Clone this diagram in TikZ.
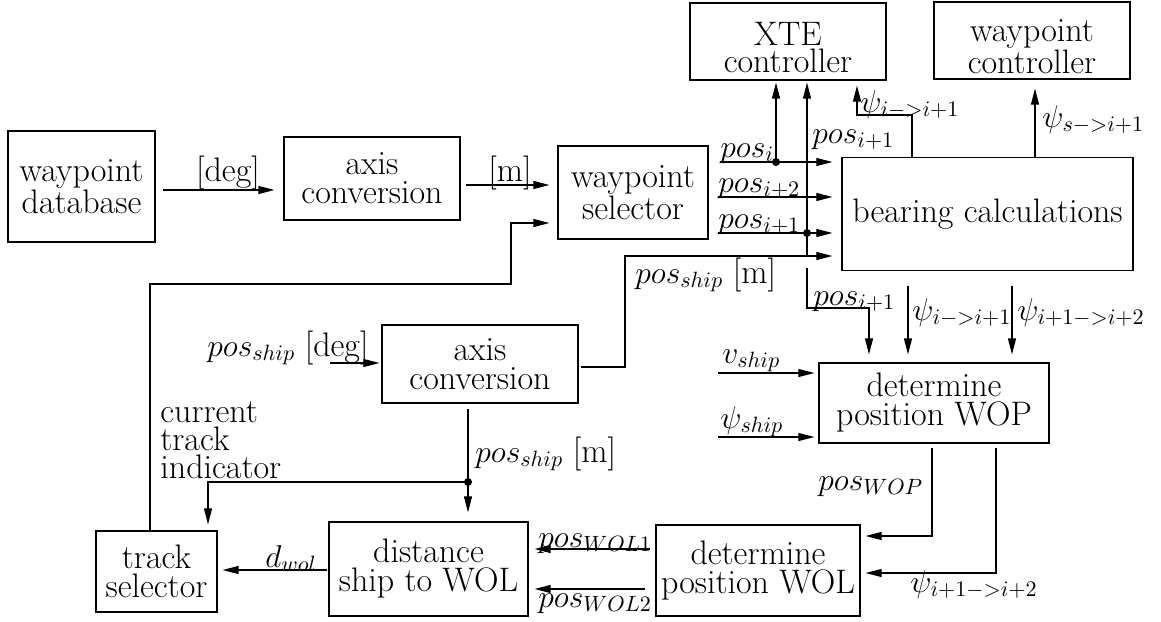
\RequirePackage{fix-cm}
\documentclass[tikz,border=0pt]{standalone}
\usetikzlibrary{arrows.meta}
\newcommand{\unitsz}[1]{{\fontsize{17}{17}\selectfont #1}}
\begin{document}
\begin{tikzpicture}[x=0.5pt,y=-0.5pt,
  font=\fontsize{17}{14.5}\selectfont,
  blk/.style={draw,line width=0.6pt,inner sep=0pt,align=center},
  wire/.style={line width=0.55pt},
  arr/.style={wire,-{Triangle[length=8pt,width=4pt]}},
  lbl/.style={inner sep=0pt,anchor=base west,font=\fontsize{15.8}{15.8}\selectfont},
  ctl/.style={align=center,inner sep=0pt,yshift=-3pt,font=\fontsize{17}{13.5}\selectfont},
  jdot/.style={circle,fill,inner sep=0pt,minimum size=4pt}]
\useasboundingbox (0,0) rectangle (1161,621);

% blocks
\node[blk,minimum width=73.5pt,minimum height=55.5pt] (db)   at (81.5,186.5) {waypoint\\database};
\node[blk,minimum width=88pt,minimum height=41.5pt]   (ac1)  at (372,178.5)  {axis\\conversion};
\node[blk,minimum width=75pt,minimum height=46.5pt]   (ws)   at (633,192.5)  {waypoint\\selector};
\node[blk,minimum width=98pt,minimum height=38.5pt,
      label={[name=xtet,ctl]center:XTE\\controller}] (xte) at (788,41.5) {};
\node[blk,minimum width=98pt,minimum height=38.5pt,
      label={[name=wct,ctl]center:waypoint\\controller}] (wc) at (1032,40.5) {};
\node[blk,minimum width=145.5pt,minimum height=56.5pt] (bc)  at (987.5,214) {bearing calculations};
\node[blk,minimum width=98pt,minimum height=39pt]     (ac2)  at (480,364)    {axis\\conversion};
\node[blk,minimum width=115pt,minimum height=40pt]    (wop)  at (934,403)    {determine\\position WOP};
\node[blk,minimum width=102pt,minimum height=45.5pt]  (wol)  at (758,570.5)  {determine\\position WOL};
\node[blk,minimum width=99.5pt,minimum height=47pt]   (dist) at (428.5,569)  {distance\\ship to WOL};
\node[blk,minimum width=60.5pt,minimum height=40.5pt] (ts)   at (156.5,571.5) {track\\selector};

% junctions and free ends
\coordinate (inpi)  at (720,162);
\coordinate (inpi2) at (718,197);
\coordinate (inpi1) at (718,233);
\coordinate (invs)  at (718,373);
\coordinate (inpsi) at (718,437);
\coordinate (indeg) at (330,363);
\node[jdot] (j1) at (776,162) {};
\node[jdot] (j2) at (807,233) {};
\node[jdot] (j3) at (468,482) {};

% upper chain
\draw[arr,shorten <=3.5pt,shorten >=4.5pt] (db.east |- 0,190) -- (ac1.west |- 0,190);
\draw[arr,shorten <=2.5pt,shorten >=4pt] (ac1.east |- 0,185) -- (ws.west |- 0,185);
\draw[arr,shorten >=4pt] (ts.north -| 150,0) -- (150,284) -- (511,284) -- (511,223) -- (ws.west |- 0,223);

% inputs of the bearing block
\draw[arr,shorten >=4.5pt] (inpi)  -- (bc.west |- inpi);
\draw[arr,shorten >=4.5pt] (inpi2) -- (bc.west |- inpi2);
\draw[arr,shorten >=4.5pt] (inpi1) -- (bc.west |- inpi1);
\draw[arr,shorten <=1pt,shorten >=4.5pt] (ac2.east |- 0,367) -- (625,367) -- (625,256) -- (bc.west |- 0,256);

% to the controllers
\draw[arr,shorten >=1pt] (j1.center) -- (xte.south -| j1);
\draw[arr,shorten >=1pt] (807,256) -- (xte.south -| j2);
\draw[arr,shorten >=2.5pt] (bc.north -| 912,0) -- (912,115) -- (857,115) -- (xte.south -| 857,0);
\draw[arr,shorten >=4.5pt] (bc.north -| 1035,0) -- (wc.south -| 1035,0);

% to the WOP block
\draw[arr,shorten >=4pt] (807,268) -- (807,308) -- (869,308) -- (wop.north -| 869,0);
\draw[arr,shorten <=7.5pt,shorten >=4pt] (bc.south -| 908,0) -- (wop.north -| 908,0);
\draw[arr,shorten <=7.5pt,shorten >=4pt] (bc.south -| 1012,0) -- (wop.north -| 1012,0);
\draw[arr,shorten >=2pt] (invs) -- (wop.west |- invs);
\draw[arr,shorten >=2pt] (inpsi) -- (wop.west |- inpsi);

% lower chain
\draw[arr,shorten <=2pt,shorten >=2.5pt] (wop.south -| 932,0) -- (932,536) -- (wol.east |- 0,536);
\draw[arr,shorten <=2pt,shorten >=2.5pt] (wop.south -| 996,0) -- (996,573) -- (wol.east |- 0,573);
\draw[arr,shorten <=2.5pt,shorten >=3pt] (wol.west |- 0,549) -- (dist.east |- 0,549);
\draw[arr,shorten <=5pt,shorten >=3pt] (wol.west |- 0,589) -- (dist.east |- 0,589);
\draw[arr,shorten <=0.5pt,shorten >=2.5pt] (dist.west |- 0,570) -- (ts.east |- 0,570);
\draw[arr,shorten >=1pt] (indeg) -- (ac2.west |- indeg);
\draw[arr,shorten <=2.5pt,shorten >=4.5pt] (ac2.south -| j3) -- (dist.north -| j3);
\draw[arr,shorten >=3pt] (j3.center) -- (208,482) -- (ts.north -| 208,0);

% signal labels
\node[lbl,anchor=base,font=\fontsize{17}{17}\selectfont] (ldeg) at (228,181) {[deg]};
\node[lbl,anchor=base,font=\fontsize{17}{17}\selectfont] (lm)   at (510,181) {[m]};
\node[lbl] (lpsd)  at (207,356) {$pos_{ship}$ \unitsz{[deg]}};
\node[lbl] (lpsm)  at (635,283) {$pos_{ship}$ \unitsz{[m]}};
\node[lbl] (lpsm2) at (475,462) {$pos_{ship}$ \unitsz{[m]}};
\node[inner sep=0pt,anchor=west,align=left,font=\fontsize{17}{14}\selectfont] (lcti) at (160,440) {current\\track\\indicator};
\node[lbl] (lpi)   at (720,157) {$pos_i$};
\node[lbl] (lpi1a) at (812,143) {$pos_{i+1}$};
\node[lbl] (lpi2)  at (718,192) {$pos_{i+2}$};
\node[lbl] (lpi1b) at (718,228) {$pos_{i+1}$};
\node[lbl] (lpsia) at (860,112) {$\psi_{i->i+1}$};
\node[lbl] (lpsis) at (1042,127) {$\psi_{s->i+1}$};
\node[lbl] (lpi1c) at (813,305) {$pos_{i+1}$};
\node[lbl] (lpsib) at (912,320) {$\psi_{i->i+1}$};
\node[lbl] (lpsic) at (1017,320) {$\psi_{i+1->i+2}$};
\node[lbl] (lvs)   at (722,363) {$v_{ship}$};
\node[lbl] (lpss)  at (720,428) {$\psi_{ship}$};
\node[lbl] (lpwop) at (818,490) {$pos_{WOP}$};
\node[lbl] (lpsid) at (910,592) {$\psi_{i+1->i+2}$};
\node[lbl] (lwol1) at (538,547) {$pos_{WOL1}$};
\node[lbl] (lwol2) at (538,607) {$pos_{WOL2}$};
\node[lbl] (ldwol) at (265,567) {$d_{wol}$};
\end{tikzpicture}
\end{document}
